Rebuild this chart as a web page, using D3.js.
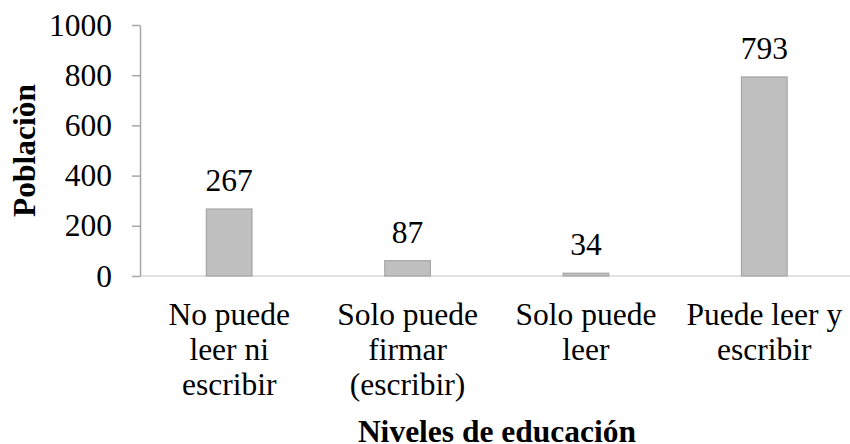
<!DOCTYPE html>
<html>
<head>
<meta charset="utf-8">
<script src="https://cdn.jsdelivr.net/npm/d3@7"></script>
</head>
<body style="margin:0;background:#fff">
<svg id="fig" width="850" height="444"></svg>
<script>
// ---- data ----
const categories = [
  ["No puede", "leer ni", "escribir"],
  ["Solo puede", "firmar", "(escribir)"],
  ["Solo puede", "leer"],
  ["Puede leer y", "escribir"]
];
const barValues = [267, 61, 11, 793];          // bar heights as drawn
const valueLabels = ["267", "87", "34", "793"]; // data labels as printed
const yTicks = [0, 200, 400, 600, 800, 1000];
const yTitle = "Poblaciòn";
const xTitle = "Niveles de educación";

const FONT = "Liberation Serif";
function serif(sel, bold) {
  sel.style("font-family", FONT, "important")
     .style("font-size", "31.5px", "important")
     .style("font-weight", bold ? "bold" : "normal");
  return sel;
}

// ---- layout ----
const svg = d3.select("#fig");
const plot = { left: 140, right: 853.5, top: 25, bottom: 276 };

const x = d3.scaleBand()
  .domain(d3.range(categories.length))
  .range([plot.left, plot.right])
  .paddingInner(0.744)
  .paddingOuter(0.372);

const y = d3.scaleLinear().domain([0, 1000]).range([plot.bottom, plot.top]);

// horizontal baseline
svg.append("line")
  .attr("x1", plot.left).attr("x2", 850)
  .attr("y1", y(0)).attr("y2", y(0))
  .attr("stroke", "#d9d9d9").attr("stroke-width", 1.5);

// y axis
const yAxis = d3.axisLeft(y).tickValues(yTicks).tickFormat(d3.format("d"))
  .tickSize(8).tickPadding(20).tickSizeOuter(0);
const gy = svg.append("g").attr("transform", `translate(${plot.left},0)`).call(yAxis);
gy.attr("font-family", null).attr("font-size", null);
gy.select(".domain").attr("stroke", "#a6a6a6").attr("stroke-width", 1.5);
gy.selectAll(".tick line").attr("stroke", "#a6a6a6").attr("stroke-width", 1.5);
serif(gy.selectAll(".tick text").attr("fill", "#000"), false);

// bars
svg.selectAll("rect.bar")
  .data(barValues)
  .join("rect")
  .attr("class", "bar")
  .attr("x", (d, i) => x(i))
  .attr("width", x.bandwidth())
  .attr("y", d => y(d))
  .attr("height", d => y(0) - y(d))
  .attr("fill", "#bfbfbf")
  .attr("stroke", "#a6a6a6")
  .attr("stroke-width", 1.2);

// value labels
serif(svg.selectAll("text.val")
  .data(barValues)
  .join("text")
  .attr("class", "val")
  .attr("x", (d, i) => x(i) + x.bandwidth() / 2)
  .attr("y", d => y(d) - 18)
  .attr("text-anchor", "middle")
  .text((d, i) => valueLabels[i]), false);

// category labels
const catG = serif(svg.selectAll("text.cat")
  .data(categories)
  .join("text")
  .attr("class", "cat")
  .attr("text-anchor", "middle"), false);
catG.each(function(lines, i) {
  const t = d3.select(this);
  lines.forEach((ln, j) => {
    t.append("tspan")
      .attr("x", x(i) + x.bandwidth() / 2)
      .attr("y", 324.5 + j * 35)
      .text(ln);
  });
});

// x title
serif(svg.append("text")
  .attr("x", 497)
  .attr("y", 441.5)
  .attr("text-anchor", "middle")
  .text(xTitle), true);

// y title
serif(svg.append("text")
  .attr("transform", `translate(35,${(plot.top + plot.bottom) / 2}) rotate(-90)`)
  .attr("text-anchor", "middle")
  .text(yTitle), true);
</script>
</body>
</html>
